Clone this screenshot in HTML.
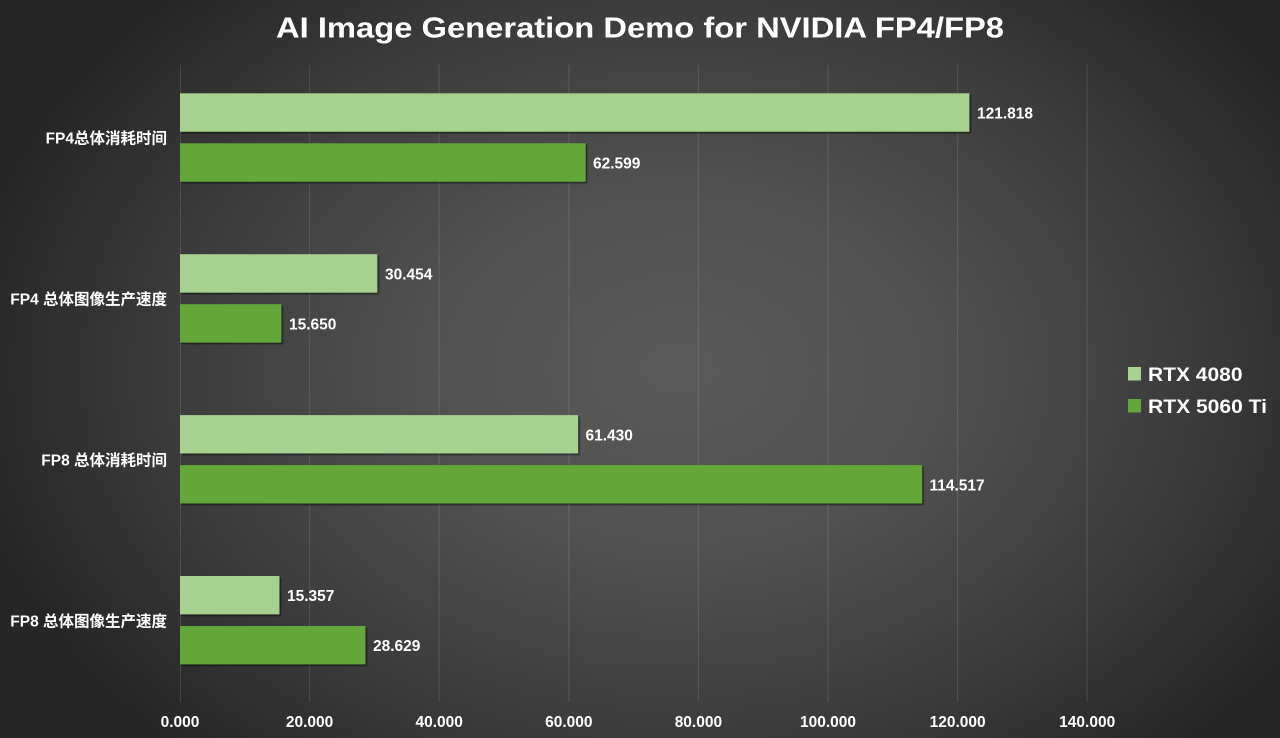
<!DOCTYPE html>
<html>
<head>
<meta charset="utf-8">
<style>
html,body{margin:0;padding:0;}
body{width:1280px;height:738px;overflow:hidden;
background:radial-gradient(ellipse 720px 520px at 680px 370px,#5a5a5a 0%,#515151 35%,#3c3c3c 70%,#262626 100%);}
svg{display:block;}
text{font-family:"Liberation Sans","Noto Sans CJK SC",sans-serif;fill:#fff;}
</style>
</head>
<body>
<svg width="1280" height="738" viewBox="0 0 1280 738" xmlns="http://www.w3.org/2000/svg">
<defs>
<filter id="sh" x="-5%" y="-30%" width="110%" height="160%">
<feDropShadow dx="1.5" dy="1.5" stdDeviation="0.8" flood-color="#000" flood-opacity="0.55"/>
</filter>
</defs>
<!-- title -->
<text x="640" y="37.5" text-anchor="middle" font-size="28.5" font-weight="bold" textLength="728" lengthAdjust="spacingAndGlyphs">AI Image Generation Demo for NVIDIA FP4/FP8</text>

<!-- gridlines -->
<g stroke="#ffffff" stroke-opacity="0.12" stroke-width="1">
<line x1="180.5" y1="65" x2="180.5" y2="702"/>
<line x1="309.6" y1="65" x2="309.6" y2="702"/>
<line x1="439.2" y1="65" x2="439.2" y2="702"/>
<line x1="568.8" y1="65" x2="568.8" y2="702"/>
<line x1="698.4" y1="65" x2="698.4" y2="702"/>
<line x1="828" y1="65" x2="828" y2="702"/>
<line x1="957.6" y1="65" x2="957.6" y2="702"/>
<line x1="1087.2" y1="65" x2="1087.2" y2="702"/>
</g>

<!-- bars -->
<g filter="url(#sh)">
<rect x="180" y="93.3" width="789.4" height="38.4" fill="#a6d18f"/>
<rect x="180" y="143.3" width="405.6" height="38.4" fill="#63a73a"/>
<rect x="180" y="254.2" width="197.3" height="38.4" fill="#a6d18f"/>
<rect x="180" y="304.2" width="101.4" height="38.4" fill="#63a73a"/>
<rect x="180" y="415.1" width="398.1" height="38.4" fill="#a6d18f"/>
<rect x="180" y="465.1" width="742.1" height="38.4" fill="#63a73a"/>
<rect x="180" y="576" width="99.5" height="38.4" fill="#a6d18f"/>
<rect x="180" y="626" width="185.5" height="38.4" fill="#63a73a"/>
</g>

<!-- value labels -->
<g font-size="15.5" font-weight="bold">
<text x="977" y="118.5">121.818</text>
<text x="593" y="168.5">62.599</text>
<text x="385" y="279.4">30.454</text>
<text x="289" y="329.4">15.650</text>
<text x="585.5" y="440.3">61.430</text>
<text x="929.5" y="490.3">114.517</text>
<text x="287" y="601.2">15.357</text>
<text x="373" y="651.2">28.629</text>
</g>

<!-- category labels -->
<g font-size="15.5" text-anchor="end" font-weight="bold">
<text x="167" y="143.5">FP4总体消耗时间</text>
<text x="167" y="304.5">FP4 总体图像生产速度</text>
<text x="167" y="465.5">FP8 总体消耗时间</text>
<text x="167" y="626.5">FP8 总体图像生产速度</text>
</g>

<!-- x tick labels -->
<g font-size="15.5" font-weight="bold" text-anchor="middle">
<text x="180" y="727">0.000</text>
<text x="309.6" y="727">20.000</text>
<text x="439.2" y="727">40.000</text>
<text x="568.8" y="727">60.000</text>
<text x="698.4" y="727">80.000</text>
<text x="828" y="727">100.000</text>
<text x="957.6" y="727">120.000</text>
<text x="1087.2" y="727">140.000</text>
</g>

<!-- legend -->
<rect x="1128" y="367" width="13" height="13.5" fill="#a6d18f"/>
<rect x="1128" y="399" width="13" height="13.5" fill="#63a73a"/>
<text x="1148" y="381" font-size="19.5" font-weight="bold" textLength="94.5" lengthAdjust="spacingAndGlyphs">RTX 4080</text>
<text x="1148" y="413" font-size="19.5" font-weight="bold" textLength="119" lengthAdjust="spacingAndGlyphs">RTX 5060 Ti</text>
</svg>
</body>
</html>
